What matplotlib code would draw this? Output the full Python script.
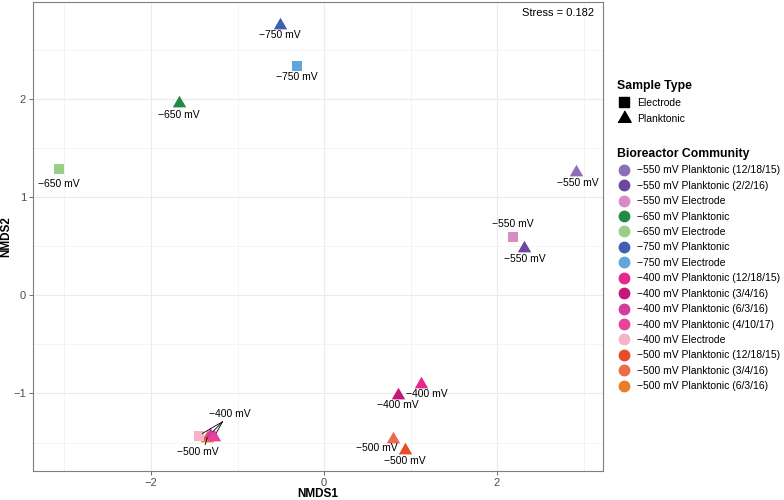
import numpy as np
import matplotlib.pyplot as plt
from matplotlib.lines import Line2D
from matplotlib.transforms import offset_copy

plt.rcParams['font.family'] = ['Liberation Sans', 'DejaVu Sans']

# ---- data ----
communities = ['−550 mV Planktonic (12/18/15)', '−550 mV Planktonic (2/2/16)', '−550 mV Electrode',
               '−650 mV Planktonic', '−650 mV Electrode',
               '−750 mV Planktonic', '−750 mV Electrode',
               '−400 mV Planktonic (12/18/15)', '−400 mV Planktonic (3/4/16)',
               '−400 mV Planktonic (6/3/16)', '−400 mV Planktonic (4/10/17)', '−400 mV Electrode',
               '−500 mV Planktonic (12/18/15)', '−500 mV Planktonic (3/4/16)', '−500 mV Planktonic (6/3/16)']
colors = ['#8B6FB8', '#6B47A0', '#D98CC4', '#238A44', '#98CF88', '#3F5FB0', '#5EA6DB',
          '#E5288C', '#C4177A', '#D33E9E', '#E7439A', '#F4B3C6', '#E94B25', '#EE6A4E', '#EC7B2A']

# points (plot order)
pt_comm = ['−550 mV Planktonic (12/18/15)', '−550 mV Planktonic (2/2/16)', '−550 mV Electrode',
           '−650 mV Planktonic', '−650 mV Electrode', '−750 mV Planktonic', '−750 mV Electrode',
           '−400 mV Planktonic (12/18/15)', '−400 mV Planktonic (3/4/16)',
           '−500 mV Planktonic (12/18/15)', '−500 mV Planktonic (3/4/16)', '−500 mV Planktonic (6/3/16)',
           '−400 mV Electrode', '−400 mV Planktonic (6/3/16)', '−400 mV Planktonic (4/10/17)']
pt_type = ['Planktonic', 'Planktonic', 'Electrode', 'Planktonic', 'Electrode', 'Planktonic', 'Electrode',
           'Planktonic', 'Planktonic', 'Planktonic', 'Planktonic', 'Planktonic',
           'Electrode', 'Planktonic', 'Planktonic']
nmds1 = [2.91, 2.31, 2.18, -1.68, -3.06, -0.51, -0.31, 1.12, 0.86, 0.94, 0.80, -1.35, -1.45, -1.32, -1.27]
nmds2 = [1.26, 0.48, 0.59, 1.96, 1.29, 2.76, 2.34, -0.90, -1.02, -1.58, -1.46, -1.45, -1.43, -1.42, -1.44]
pt_label = ['−550 mV', '−550 mV', '−550 mV', '−650 mV', '−650 mV', '−750 mV', '−750 mV',
            '−400 mV', '−400 mV', '−500 mV', '−500 mV', '−500 mV', '−400 mV', None, None]
stress = 0.182

# label offsets in pixels (dx right, dy down) relative to the point
label_off = [(2, 11), (1, 11), (0, -13), (0, 12), (0, 15), (0, 10), (0, 11),
             (6, 10), (-1, 10), (-1, 11), (-16, 9), (-9, 14), (31, -22), None, None]

tri = [(-1, -0.577), (1, -0.577), (0, 1.155)]
markers = {'Electrode': 's', 'Planktonic': tri}
sizes = {'Electrode': 55, 'Planktonic': 125}
cmap = dict(zip(communities, colors))

fig = plt.figure(figsize=(7.84, 5.0), dpi=100)
ax = fig.add_axes([33 / 784, 29 / 500, 570 / 784, 469 / 500])
ax.set_xlim(-3.364, 3.225)
ax.set_ylim(-1.79, 2.99)

ax.set_xticks([-2, 0, 2])
ax.set_yticks([-1, 0, 1, 2])
ax.set_xticks([-3, -1, 1, 3], minor=True)
ax.set_yticks([-1.5, -0.5, 0.5, 1.5, 2.5], minor=True)
ax.grid(True, which='major', color='#EBEBEB', linewidth=0.8)
ax.grid(True, which='minor', color='#F2F2F2', linewidth=0.6)
ax.set_axisbelow(True)
ax.tick_params(which='major', length=3, width=0.6, color='#555555', labelcolor='#4D4D4D',
               labelsize=8, pad=2)
ax.tick_params(which='minor', length=0)
for s in ax.spines.values():
    s.set_color('#7F7F7F')
    s.set_linewidth(0.8)
ax.set_xticklabels(['−2', '0', '2'])
ax.set_yticklabels(['−1', '0', '1', '2'])
ax.set_xlabel('NMDS1', fontsize=8.5, fontweight='bold')
ax.set_ylabel('NMDS2', fontsize=8.5, fontweight='bold')
ax.xaxis.set_label_coords(0.5, -0.037)
ax.yaxis.set_label_coords(-0.036, 0.5)

for i in range(len(nmds1)):
    ax.scatter(nmds1[i], nmds2[i], marker=markers[pt_type[i]], s=sizes[pt_type[i]],
               color=cmap[pt_comm[i]], linewidths=0, zorder=3)

px2pt = 72 / 100
for i in range(len(nmds1)):
    if pt_label[i] is None:
        continue
    dx, dy = label_off[i]
    ax.annotate(pt_label[i], (nmds1[i], nmds2[i]), xytext=(dx * px2pt, -dy * px2pt),
                textcoords='offset points', ha='center', va='center', fontsize=7.5, zorder=4)

# leader segments for the crowded cluster
anchor = 12
conv = offset_copy(ax.transData, fig=fig, x=24 * px2pt, y=14 * px2pt, units='points')
for j in [12, 13, 14]:
    ax.annotate('', xy=(nmds1[j], nmds2[j]), xytext=(nmds1[anchor], nmds2[anchor]), textcoords=conv,
                arrowprops=dict(arrowstyle='-', color='black', lw=0.6, shrinkA=0, shrinkB=3), zorder=4)
conv5 = offset_copy(ax.transData, fig=fig, x=-2 * px2pt, y=-7 * px2pt, units='points')
ax.annotate('', xy=(nmds1[11], nmds2[11]), xytext=(nmds1[11], nmds2[11]), textcoords=conv5,
            arrowprops=dict(arrowstyle='-', color='black', lw=0.6, shrinkA=0, shrinkB=0), zorder=4)

ax.text(0.985, 0.988, 'Stress = ' + str(stress), transform=ax.transAxes, ha='right', va='top',
        fontsize=8)

# legends
type_handles = [Line2D([], [], marker=markers[t], color='black', linestyle='none',
                       markersize=7 if t == 'Electrode' else 11) for t in ['Electrode', 'Planktonic']]
leg1 = fig.legend(type_handles, ['Electrode', 'Planktonic'], loc='upper left',
                  bbox_to_anchor=(617 / 784, 1 - 80 / 500), frameon=False, title='Sample Type',
                  title_fontproperties={'weight': 'bold', 'size': 8.8}, alignment='left',
                  fontsize=7.5, borderpad=0, borderaxespad=0, handlelength=1.35,
                  handletextpad=0.6, labelspacing=0.58)
comm_handles = [Line2D([], [], marker='o', color=c, linestyle='none', markersize=7.5) for c in colors]
leg2 = fig.legend(comm_handles, communities, loc='upper left',
                  bbox_to_anchor=(617 / 784, 1 - 148 / 500), frameon=False, title='Bioreactor Community',
                  title_fontproperties={'weight': 'bold', 'size': 8.8}, alignment='left',
                  fontsize=7.5, borderpad=0, borderaxespad=0, handlelength=1.35,
                  handletextpad=0.6, labelspacing=0.52)

fig.savefig('out.png', dpi=100)
